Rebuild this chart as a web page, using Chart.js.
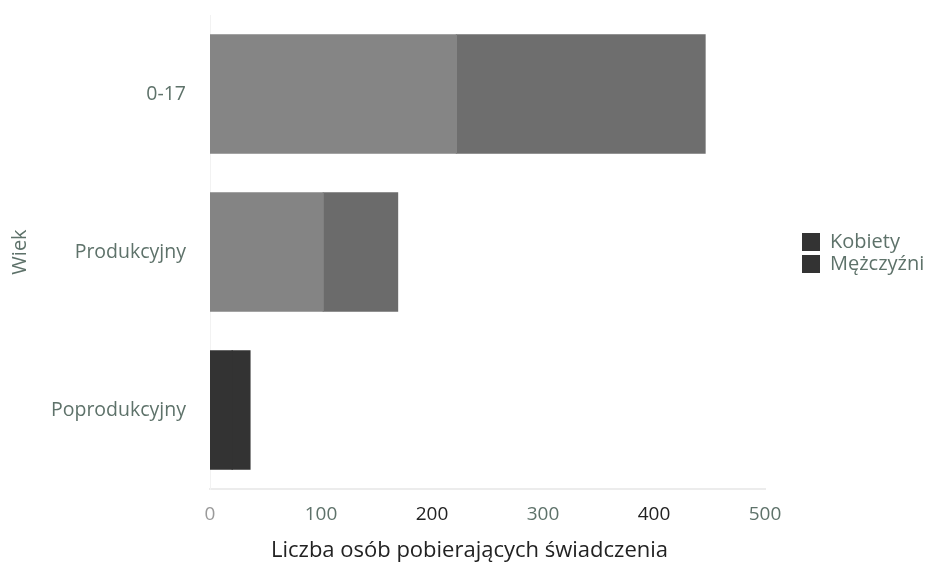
<!DOCTYPE html>
<html>
<head>
<meta charset="utf-8">
<script src="https://cdn.jsdelivr.net/npm/chart.js@4"></script>
<style>
html,body{margin:0;padding:0;background:#fff;}
#wrap{width:931px;height:566px;position:relative;}
</style>
</head>
<body>
<div id="wrap"><canvas id="c" width="931" height="566"></canvas></div>
<script>
const categories = ['0-17', 'Produkcyjny', 'Poprodukcyjny'];
const seriesNames = ['Kobiety', 'Mężczyźni'];
const kobiety = [222, 102, 20];
const mezczyzni = [224, 67, 16];
const xTicks = [0, 100, 200, 300, 400, 500];

const green = '#5e726a';
const tickColors = ['#9a9a9a', green, '#222', green, '#222', green];

const legendWidth = {
  id: 'legendWidth',
  afterInit(chart) {
    const lg = chart.legend;
    if (!lg) return;
    const orig = lg.fit.bind(lg);
    lg.fit = function () { orig(); this.width = 931 - 765; };
  },
  afterLayout(chart) {
    const lg = chart.legend;
    if (lg) {
      const c = (lg.top + lg.bottom) / 2;
      const d = c - 253;
      lg.left += 35; lg.top -= d; lg.bottom -= d;
    }
  }
};

new Chart(document.getElementById('c'), {
  type: 'bar',
  data: {
    labels: categories,
    datasets: [
      { label: seriesNames[0], data: kobiety, borderWidth: 0, inflateAmount: 0.6, backgroundColor: ['#858585', '#848484', '#333333'] },
      { label: seriesNames[1], data: mezczyzni, borderWidth: 0, inflateAmount: 0.6, backgroundColor: ['#6e6e6e', '#6b6b6b', '#333333'] }
    ]
  },
  options: {
    indexAxis: 'y',
    responsive: false,
    animation: false,
    layout: { padding: { left: 8, top: 15, right: 0, bottom: 0 } },
    categoryPercentage: 1,
    barPercentage: 0.75,
    scales: {
      x: {
        stacked: true,
        min: 0, max: 500,
        afterBuildTicks(scale) { scale.ticks = xTicks.map(v => ({ value: v })); },
        grid: { display: false },
        border: { display: true, color: '#ececec', width: 2 },
        ticks: {
          color: tickColors,
          font: { family: 'Open Sans', size: 19 },
          padding: 6
        },
        afterFit(scale) { scale.height = 48.6; }
      },
      y: {
        stacked: true,
        grid: { display: false },
        border: { display: true, color: '#f2f2f2', width: 1 },
        ticks: {
          color: green,
          font: { family: 'Open Sans', size: 19.5 },
          padding: 16
        },
        title: {
          display: true,
          text: 'Wiek',
          color: green,
          font: { family: 'Open Sans', size: 20 },
          padding: 0
        },
        afterFit(scale) { scale.width = 202; scale.paddingTop = 0; scale.paddingBottom = 0; }
      }
    },
    plugins: {
      tooltip: { enabled: false },
      title: {
        display: true,
        position: 'bottom',
        text: 'Liczba osób pobierających świadczenia',
        color: '#222',
        font: { family: 'Open Sans', size: 22, weight: 'normal' },
        padding: { top: 0, bottom: 2 }
      },
      legend: {
        position: 'right',
        labels: {
          boxWidth: 18,
          boxHeight: 18,
          padding: 2,
          color: green,
          font: { family: 'Open Sans', size: 20 },
          generateLabels(chart) {
            return chart.data.datasets.map((d, i) => ({
              text: d.label,
              fillStyle: '#333333',
              strokeStyle: '#333333',
              lineWidth: 0,
              fontColor: green,
              datasetIndex: i,
              hidden: false
            }));
          }
        }
      }
    }
  },
  plugins: [legendWidth]
});
</script>
</body>
</html>
